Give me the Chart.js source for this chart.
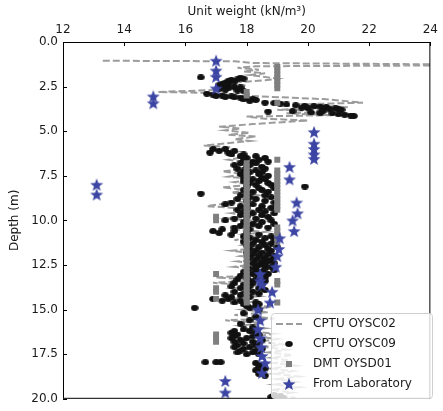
<!DOCTYPE html>
<html>
<head>
<meta charset="utf-8">
<script src="https://cdn.jsdelivr.net/npm/chart.js@4.4.1/dist/chart.umd.min.js"></script>
<style>
  html, body { margin: 0; padding: 0; background: #fff; }
  #wrap { width: 443px; height: 411px; }
</style>
</head>
<body>
<div id="wrap"><canvas id="profile" width="443" height="411"></canvas></div>
<script>
// tick values
const xTicks = [12, 14, 16, 18, 20, 22, 24];
const yTicks = [0, 2.5, 5, 7.5, 10, 12.5, 15, 17.5, 20];

// CPTU OYSC02 (dashed line)
const cptu02Depth = [1.05, 1.08, 1.18, 1.26, 1.31, 1.36, 1.45, 1.55, 1.65, 1.75, 1.85, 2.05, 2.15, 2.3, 2.45, 2.65, 2.8, 2.88, 2.95, 3.2, 3.4, 3.5, 3.65, 3.8, 3.9, 4.0, 4.1, 4.18, 4.3, 4.4, 4.6, 4.75, 4.85, 4.95, 5.1, 5.2, 5.3, 5.45, 5.55, 5.7, 5.8, 5.9, 6.05, 6.15, 6.3, 6.45, 6.6, 6.8, 6.95, 7.1, 7.25, 7.4, 7.55, 7.7, 7.85, 8.0, 8.15, 8.3, 8.45, 8.6, 8.75, 8.9, 9.05, 9.2, 9.3, 9.45, 9.6, 9.75, 9.9, 10.05, 10.2, 10.35, 10.5, 10.65, 10.8, 10.95, 11.1, 11.25, 11.4, 11.55, 11.7, 11.85, 12.0, 12.15, 12.3, 12.45, 12.6, 12.75, 12.9, 13.05, 13.2, 13.35, 13.5, 13.65, 13.8, 13.95, 14.1, 14.25, 14.4, 14.55, 14.7, 14.85, 15.0, 15.15, 15.3, 15.5, 15.6, 15.75, 15.9, 16.05, 16.2, 16.35, 16.5, 16.65, 16.8, 16.95, 17.1, 17.25, 17.4, 17.55, 17.7, 17.85, 18.0, 18.15, 18.3, 18.45, 18.6, 18.75, 18.9, 19.05, 19.2, 19.35, 19.5, 19.65, 19.8, 19.95];
const cptu02Gamma = [13.3, 17.6, 18.2, 25, 25, 18.3, 17.7, 18.4, 17.9, 18.6, 18.1, 19.0, 18.6, 17.3, 18.0, 17.6, 15.1, 17.4, 17.1, 20.5, 21.8, 19.6, 21.3, 19.0, 21.0, 19.3, 20.8, 18.0, 18.6, 20.0, 18.2, 17.1, 17.8, 17.3, 18.1, 17.4, 18.3, 17.6, 18.1, 17.2, 16.6, 17.5, 17.0, 17.7, 17.3, 17.9, 17.4, 18.2, 17.5, 18.0, 17.2, 17.9, 17.4, 18.3, 17.6, 18.1, 17.2, 18.0, 17.5, 18.4, 17.7, 18.2, 17.3, 16.7, 17.6, 18.3, 17.5, 18.1, 17.4, 18.5, 17.8, 18.3, 17.5, 18.6, 17.9, 18.4, 17.6, 18.7, 17.9, 18.4, 17.5, 18.2, 17.8, 18.6, 17.7, 18.3, 17.6, 18.5, 17.9, 18.4, 17.0, 18.5, 16.9, 18.3, 17.6, 18.6, 17.8, 18.4, 17.5, 18.2, 17.9, 18.8, 17.9, 18.7, 17.6, 18.9, 17.3, 18.5, 17.8, 18.6, 18.0, 18.9, 18.3, 19.0, 18.4, 19.2, 18.6, 19.3, 18.7, 19.5, 18.8, 19.4, 18.9, 19.6, 18.8, 19.5, 18.9, 19.7, 19.0, 19.6, 18.9, 19.7, 18.8, 19.5, 19.0, 19.6];

// CPTU OYSC09 (black dots)
const cptu09Depth = [
  1.98, 2.0, 2.05, 2.1, 2.12, 2.18, 2.22, 2.28, 2.33, 2.38, 2.42, 2.48, 2.52, 2.55, 2.58, 2.62, 2.68, 2.72, 2.75,
  2.9, 2.95, 3.0, 3.02, 3.05, 3.08, 3.1, 3.12, 3.15, 3.2, 3.22, 3.25, 3.3,
  3.4, 3.42, 3.45, 3.5, 3.55, 3.58, 3.6, 3.62, 3.65, 3.68, 3.7, 3.72, 3.75, 3.78, 3.8, 3.85, 3.88, 3.9, 3.95, 3.98, 4.0, 4.05, 4.08, 4.12, 4.15,
  6.0, 6.0, 6.1, 6.1, 6.2, 6.2, 6.3, 6.3, 6.4, 6.4, 6.5, 6.5, 6.6, 6.6, 6.7, 6.7, 6.8, 6.8, 6.9, 6.9,
  7.0, 7.0, 7.1, 7.1, 7.2, 7.2, 7.3, 7.3, 7.4, 7.4, 7.5, 7.5, 7.6, 7.6, 7.7, 7.7, 7.8, 7.8, 7.9, 7.9,
  8.0, 8.0, 8.1, 8.1, 8.2, 8.2, 8.3, 8.3, 8.4, 8.4, 8.5, 8.5, 8.6, 8.6, 8.7, 8.7, 8.8, 8.8, 8.9, 8.9,
  9.0, 9.0, 9.1, 9.1, 9.2, 9.2, 9.3, 9.3, 9.4, 9.4, 9.5, 9.5, 9.6, 9.6, 9.7, 9.7, 9.8, 9.8, 9.9, 9.9,
  10.0, 10.0, 10.1, 10.1, 10.2, 10.2, 10.3, 10.3, 10.4, 10.4, 10.5, 10.5, 10.6, 10.6, 10.7, 10.7, 10.8, 10.8, 10.9, 10.9,
  11.0, 11.0, 11.1, 11.1, 11.2, 11.2, 11.3, 11.3, 11.4, 11.4, 11.5, 11.5, 11.6, 11.6, 11.7, 11.7, 11.8, 11.8, 11.9, 11.9,
  12.0, 12.0, 12.1, 12.1, 12.2, 12.2, 12.3, 12.3, 12.4, 12.4, 12.5, 12.5, 12.6, 12.6, 12.7, 12.7, 12.8, 12.8, 12.9, 12.9,
  13.0, 13.0, 13.1, 13.1, 13.2, 13.2, 13.3, 13.3, 13.4, 13.4, 13.5, 13.5, 13.6, 13.6, 13.7, 13.7, 13.8, 13.8, 13.9, 13.9,
  14.0, 14.0, 14.1, 14.1, 14.2, 14.2, 14.3, 14.3, 14.4, 14.4, 14.5, 14.5, 14.6, 14.6, 14.7, 14.7, 14.8, 14.8, 14.9, 14.9,
  15.0, 15.2, 15.4, 15.6, 15.8, 16.0, 16.1,
  16.2, 16.2, 16.3, 16.3, 16.4, 16.4, 16.5, 16.5, 16.6, 16.6, 16.7, 16.7, 16.8, 16.8, 16.9, 16.9,
  17.0, 17.0, 17.1, 17.1, 17.2, 17.2, 17.3, 17.3, 17.4, 17.4, 17.5, 17.5,
  17.95, 17.95, 17.95, 18.0, 18.1, 18.2, 18.3, 18.4, 18.5, 18.6, 18.7,
  19.8, 19.85, 19.9, 19.95, 20.0
];
const cptu09Gamma = [
  16.5, 17.8, 17.9, 17.7, 17.5, 17.4, 17.6, 17.3, 17.2, 17.4, 17.1, 17.3, 17.6, 17.8, 17.4, 17.1, 17.3, 17.7, 17.9,
  16.7, 16.9, 17.2, 17.0, 17.5, 17.3, 17.6, 17.8, 18.0, 18.2, 17.9, 18.3, 18.1,
  18.6, 18.9, 19.1, 19.3, 19.6, 19.9, 20.2, 20.4, 20.6, 19.8, 20.0, 20.9, 20.7, 21.0, 21.1, 20.5, 19.5, 18.7, 20.1, 20.4, 20.8, 21.0, 21.2, 21.4, 21.5,
  16.9, 17.3, 17.1, 17.6, 16.8, 17.4, 17.5, 17.9, 17.8, 18.3, 18.0, 18.6, 17.9, 18.4, 18.2, 18.7, 17.8, 18.3, 17.6, 18.1,
  18.0, 18.5, 17.7, 18.6, 17.9, 18.3, 18.1, 18.5, 17.8, 18.4, 18.0, 18.7, 17.9, 18.5, 18.2, 18.6, 17.9, 18.4, 18.1, 18.7,
  18.3, 18.8, 18.0, 19.9, 18.4, 18.9, 17.9, 18.5, 18.2, 18.7, 16.5, 18.0, 17.8, 18.6, 18.1, 18.8, 17.7, 18.3, 18.0, 18.6,
  17.5, 18.9, 17.3, 18.2, 17.8, 18.5, 18.0, 18.8, 17.7, 18.4, 17.9, 18.6, 18.2, 18.9, 17.8, 18.5, 18.0, 18.7, 17.6, 18.3,
  17.3, 18.8, 17.9, 18.5, 18.2, 18.9, 17.8, 18.4, 17.6, 18.7, 17.2, 18.1, 16.9, 17.6, 17.1, 18.0, 17.5, 18.4, 17.9, 18.8,
  18.1, 18.6, 18.3, 18.9, 17.9, 18.5, 18.2, 18.8, 18.0, 18.6, 18.4, 19.0, 18.1, 18.7, 18.3, 18.8, 18.0, 18.5, 18.2, 18.7,
  18.4, 18.9, 18.1, 18.6, 18.3, 18.8, 18.5, 18.7, 18.2, 18.9, 18.4, 18.6, 18.3, 18.8, 18.1, 18.6, 18.3, 18.9, 17.9, 18.5,
  18.2, 18.7, 17.8, 18.4, 18.0, 18.6, 17.7, 18.3, 18.1, 18.6, 17.6, 18.2, 17.9, 18.5, 17.5, 18.1, 17.8, 18.4, 18.0, 18.6,
  17.6, 18.2, 17.9, 18.4, 17.3, 17.8, 17.5, 18.1, 16.9, 17.4, 17.2, 17.8, 17.6, 18.3, 17.9, 18.4, 18.0, 18.3, 16.3, 18.1,
  18.4, 17.9, 18.3, 18.1, 17.8, 18.2, 17.9,
  17.6, 18.1, 17.5, 18.3, 17.7, 18.4, 17.6, 18.2, 17.5, 18.0, 17.8, 18.5, 17.6, 18.2, 17.9, 18.4,
  17.7, 18.3, 17.6, 18.1, 17.9, 18.5, 17.8, 18.3, 17.7, 18.2, 18.0, 18.4,
  16.65, 17.0, 17.15, 18.3, 18.5, 18.4, 18.6, 18.3, 18.5, 18.4, 18.6,
  18.9, 19.1, 18.8, 19.2, 19.0
];

// DMT OYSD01 (grey squares)
const dmtDepth = [1.4, 1.6, 1.8, 2.0, 2.2, 2.4, 2.6, 2.8, 3.0, 3.4, 6.6, 7.2, 7.4, 7.6, 7.8, 8.0, 8.2, 8.4, 8.6, 8.8, 9.0, 9.2, 9.4, 10.4, 10.6, 10.8, 11.0, 11.2, 13.4, 13.6, 14.6, 6.8, 7.0, 7.2, 7.4, 7.6, 7.8, 8.0, 8.2, 8.4, 8.6, 8.8, 9.0, 9.2, 9.4, 9.6, 9.8, 10.0, 10.2, 10.4, 10.6, 10.8, 11.0, 11.2, 11.4, 11.6, 11.8, 12.0, 12.2, 12.4, 12.6, 12.8, 13.0, 13.2, 13.4, 13.6, 13.8, 14.0, 14.2, 14.4, 14.6, 9.8, 10.0, 13.0, 13.8, 14.0, 14.4, 16.4, 16.6, 16.8];
const dmtGamma = [19, 19, 19, 19, 19, 19, 19, 18, 18, 19, 19, 19, 19, 19, 19, 19, 19, 19, 19, 19, 19, 19, 19, 19, 19, 19, 19, 19, 19, 19, 19, 18, 18, 18, 18, 18, 18, 18, 18, 18, 18, 18, 18, 18, 18, 18, 18, 18, 18, 18, 18, 18, 18, 18, 18, 18, 18, 18, 18, 18, 18, 18, 18, 18, 18, 18, 18, 18, 18, 18, 18, 17, 17, 17, 17, 17, 17, 17, 17, 17];

// laboratory (blue stars)
const labDepth = [1.05, 1.6, 1.95, 2.6, 3.05, 3.43, 5.05, 5.7, 6.0, 6.3, 6.55, 7.0, 7.7, 8.0, 8.55, 9.0, 9.6, 10.0, 10.6, 11.0, 11.6, 12.0, 12.6, 13.0, 13.4, 13.6, 14.0, 14.6, 15.0, 15.6, 16.1, 16.6, 17.1, 17.6, 18.0, 18.55, 19.0, 19.65];
const labGamma = [17.0, 17.0, 17.0, 17.0, 14.95, 14.95, 20.2, 20.2, 20.2, 20.2, 20.2, 19.4, 19.4, 13.1, 13.1, 19.63, 19.66, 19.5, 19.55, 19.08, 19.05, 19.0, 18.95, 18.44, 18.44, 18.5, 18.83, 18.76, 18.37, 18.44, 18.37, 18.44, 18.47, 18.5, 18.6, 18.5, 17.3, 17.3];

const toPts = (ds, gs) => ds.map((d, i) => ({ x: gs[i], y: d }));

const LINE_GREY = '#9c9c9c';
const DMT_GREY = '#7f7f7f';
const STAR_BLUE = '#3c45a3';
const FONT = 'DejaVu Sans';

function starPath(ctx, cx, cy, ro, ri) {
  ctx.beginPath();
  for (let i = 0; i < 10; i++) {
    const r = i % 2 ? ri : ro;
    const a = -Math.PI / 2 + i * Math.PI / 5;
    ctx.lineTo(cx + r * Math.cos(a), cy + r * Math.sin(a));
  }
  ctx.closePath();
}

const starImg = document.createElement('canvas');
starImg.width = 14; starImg.height = 14;
(function () {
  const c = starImg.getContext('2d');
  starPath(c, 7, 7.5, 6.8, 2.9);
  c.fillStyle = STAR_BLUE;
  c.fill();
})();

// slightly flattened dot, like the smeared cone readings
const dotImg = document.createElement('canvas');
dotImg.width = 8; dotImg.height = 6;
(function () {
  const c = dotImg.getContext('2d');
  c.beginPath();
  c.ellipse(4, 3, 3.8, 2.9, 0, 0, Math.PI * 2);
  c.fillStyle = '#111';
  c.fill();
})();

// frame + inward ticks + legend box
const framePlugin = {
  id: 'frame',
  afterDraw(chart) {
    const { ctx, chartArea: a, scales } = chart;
    ctx.save();
    ctx.strokeStyle = '#000';
    ctx.lineWidth = 1;
    ctx.strokeRect(a.left + 0.5, a.top + 0.5, a.right - a.left - 1, a.bottom - a.top - 1);
    ctx.beginPath();
    xTicks.forEach(v => {
      const px = Math.round(scales.x.getPixelForValue(v)) + 0.5;
      ctx.moveTo(px, a.top); ctx.lineTo(px, a.top + 4);
    });
    yTicks.forEach(v => {
      const py = Math.round(scales.y.getPixelForValue(v)) + 0.5;
      ctx.moveTo(a.left, py); ctx.lineTo(a.left + 4, py);
    });
    ctx.stroke();

    // legend
    const lx = 271, ly = 313, lw = 161, lh = 85;
    ctx.beginPath();
    ctx.roundRect(lx + 0.5, ly + 0.5, lw, lh, 3);
    ctx.fillStyle = 'rgba(255,255,255,0.8)';
    ctx.fill();
    ctx.strokeStyle = '#d0d0d0';
    ctx.stroke();

    const mx = 289, tx = 313;
    const rows = [324, 344, 364, 384];
    ctx.strokeStyle = LINE_GREY;
    ctx.lineWidth = 2;
    ctx.setLineDash([7, 3]);
    ctx.beginPath();
    ctx.moveTo(276, rows[0]); ctx.lineTo(302, rows[0]);
    ctx.stroke();
    ctx.setLineDash([]);
    ctx.drawImage(dotImg, mx - 4, rows[1] - 3);
    ctx.fillStyle = DMT_GREY;
    ctx.fillRect(mx - 3, rows[2] - 3, 6, 6);
    ctx.drawImage(starImg, mx - 7, rows[3] - 7);

    ctx.fillStyle = '#1a1a1a';
    ctx.font = '12px "' + FONT + '"';
    ctx.textBaseline = 'middle';
    ['CPTU OYSC02', 'CPTU OYSC09', 'DMT OYSD01', 'From Laboratory'].forEach((t, i) => {
      ctx.fillText(t, tx, rows[i]);
    });
    ctx.restore();
  }
};

new Chart(document.getElementById('profile'), {
  type: 'scatter',
  data: {
    datasets: [
      {
        label: 'From Laboratory',
        data: toPts(labDepth, labGamma),
        pointStyle: starImg,
        pointRadius: 7
      },
      {
        label: 'DMT OYSD01',
        data: toPts(dmtDepth, dmtGamma),
        pointStyle: 'rect',
        pointRadius: 4.2,
        backgroundColor: DMT_GREY,
        borderWidth: 0
      },
      {
        label: 'CPTU OYSC09',
        data: toPts(cptu09Depth, cptu09Gamma),
        pointStyle: dotImg,
        pointRadius: 4
      },
      {
        label: 'CPTU OYSC02',
        data: toPts(cptu02Depth, cptu02Gamma),
        showLine: true,
        pointRadius: 0,
        borderColor: LINE_GREY,
        borderWidth: 2,
        borderDash: [7, 3],
        tension: 0
      }
    ]
  },
  options: {
    responsive: false,
    animation: false,
    events: [],
    layout: { padding: { left: 0, right: 9, top: 0, bottom: 8 } },
    plugins: { legend: { display: false }, tooltip: { enabled: false } },
    scales: {
      x: {
        type: 'linear',
        position: 'top',
        min: 12, max: 24,
        afterFit: s => { s.height = 42; },
        afterBuildTicks: s => { s.ticks = xTicks.map(v => ({ value: v })); },
        ticks: { padding: 5, color: '#1a1a1a', font: { family: FONT, size: 12 } },
        grid: { display: false, drawTicks: false },
        border: { display: false },
        title: { display: true, text: 'Unit weight (kN/m³)', color: '#1a1a1a', font: { family: FONT, size: 12 }, padding: { top: 5, bottom: 0 } }
      },
      y: {
        type: 'linear',
        reverse: true,
        min: 0, max: 20,
        afterFit: s => { s.width = 63; },
        afterBuildTicks: s => { s.ticks = yTicks.map(v => ({ value: v })); },
        ticks: { padding: 5, color: '#1a1a1a', font: { family: FONT, size: 12 }, callback: v => v.toFixed(1) },
        grid: { display: false, drawTicks: false },
        border: { display: false },
        title: { display: true, text: 'Depth (m)', color: '#1a1a1a', font: { family: FONT, size: 12 }, padding: { top: 8, bottom: 0 } }
      }
    }
  },
  plugins: [framePlugin]
});
</script>
</body>
</html>
